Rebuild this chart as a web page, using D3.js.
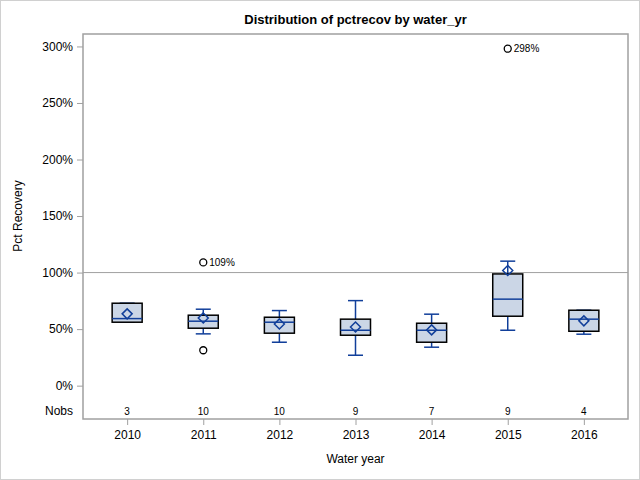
<html>
  <head>
    <meta charset="utf-8" />
    <script src="https://d3js.org/d3.v7.min.js"></script>
  </head>
  <style>
    body { margin: 0; }
    svg { font-family: "Liberation Sans", Arial, sans-serif; }
  </style>
  <body>
    <svg width="640" height="480"></svg>
    <script>
      // values (fractions, 1 = 100%)
      var years = ["2010", "2011", "2012", "2013", "2014", "2015", "2016"];
      var nobs = [3, 10, 10, 9, 7, 9, 4];
      var whiskerLow = [0.561, 0.458, 0.384, 0.269, 0.340, 0.490, 0.455];
      var q1 = [0.561, 0.508, 0.464, 0.446, 0.384, 0.614, 0.481];
      var median = [0.593, 0.570, 0.561, 0.490, 0.490, 0.765, 0.588];
      var q3 = [0.729, 0.623, 0.605, 0.588, 0.552, 0.988, 0.667];
      var whiskerHigh = [0.729, 0.676, 0.664, 0.752, 0.632, 1.101, 0.667];
      var mean = [0.635, 0.599, 0.546, 0.519, 0.493, 1.018, 0.573];
      var outlierYear = ["2011", "2011", "2015"];
      var outlierValue = [1.09, 0.313, 2.98];
      var outlierLabel = ["109%", "", "298%"];
      var yTicks = [0, 0.5, 1, 1.5, 2, 2.5, 3];

      var svg = d3.select("svg");
      var plotLeft = 83, plotRight = 628, plotTop = 34, plotBottom = 419;
      var blue = "#113f9a";

      // outer border
      svg.append("rect")
        .attr("x", 0.5).attr("y", 0.5).attr("width", 639).attr("height", 479)
        .style("fill", "white").style("stroke", "#d0d0d0");

      var x = d3.scalePoint().domain(years).range([plotLeft, plotRight]).padding(0.58);
      var y = d3.scaleLinear().domain([-0.295, 3.11]).range([plotBottom, plotTop]);

      // reference line at 100%
      svg.append("line")
        .attr("x1", plotLeft).attr("x2", plotRight)
        .attr("y1", y(1)).attr("y2", y(1))
        .style("stroke", "#a0a0a0").style("stroke-width", 1);

      var boxes = years.map(function (yr, i) {
        return { year: yr, lo: whiskerLow[i], q1: q1[i], med: median[i], q3: q3[i], hi: whiskerHigh[i], mean: mean[i], n: nobs[i] };
      });

      var g = svg.selectAll("g.box").data(boxes).enter().append("g").attr("class", "box");
      var bw = 30, cw = 15;

      // whiskers
      g.append("line")
        .attr("x1", function (d) { return x(d.year); }).attr("x2", function (d) { return x(d.year); })
        .attr("y1", function (d) { return y(d.hi); }).attr("y2", function (d) { return y(d.q3); })
        .style("stroke", blue).style("stroke-width", 1.5);
      g.append("line")
        .attr("x1", function (d) { return x(d.year); }).attr("x2", function (d) { return x(d.year); })
        .attr("y1", function (d) { return y(d.q1); }).attr("y2", function (d) { return y(d.lo); })
        .style("stroke", blue).style("stroke-width", 1.5);
      ["hi", "lo"].forEach(function (k) {
        g.append("line")
          .attr("x1", function (d) { return x(d.year) - cw / 2; }).attr("x2", function (d) { return x(d.year) + cw / 2; })
          .attr("y1", function (d) { return y(d[k]); }).attr("y2", function (d) { return y(d[k]); })
          .style("stroke", blue).style("stroke-width", 1.5);
      });

      // boxes
      g.append("rect")
        .attr("x", function (d) { return x(d.year) - bw / 2; })
        .attr("y", function (d) { return y(d.q3); })
        .attr("width", bw)
        .attr("height", function (d) { return y(d.q1) - y(d.q3); })
        .style("fill", "#cbd6e6").style("stroke", "black").style("stroke-width", 1.5);

      // median
      g.append("line")
        .attr("x1", function (d) { return x(d.year) - bw / 2; }).attr("x2", function (d) { return x(d.year) + bw / 2; })
        .attr("y1", function (d) { return y(d.med); }).attr("y2", function (d) { return y(d.med); })
        .style("stroke", blue).style("stroke-width", 1.5);

      // mean diamond
      g.append("path")
        .attr("d", function (d) {
          var cx = x(d.year), cy = y(d.mean), r = 5;
          return "M" + cx + "," + (cy - r) + "L" + (cx + r) + "," + cy + "L" + cx + "," + (cy + r) + "L" + (cx - r) + "," + cy + "Z";
        })
        .style("fill", "none").style("stroke", blue).style("stroke-width", 1.5);

      // nobs
      g.append("text")
        .attr("x", function (d) { return x(d.year); })
        .attr("y", plotBottom - 4)
        .attr("text-anchor", "middle")
        .style("font-size", "10px")
        .text(function (d) { return d.n; });

      // outliers
      outlierYear.forEach(function (yr, i) {
        svg.append("circle")
          .attr("cx", x(yr)).attr("cy", y(outlierValue[i])).attr("r", 3.5)
          .style("fill", "none").style("stroke", "black").style("stroke-width", 1.3);
        if (outlierLabel[i]) {
          svg.append("text")
            .attr("x", x(yr) + 6).attr("y", y(outlierValue[i]) + 3.5)
            .style("font-size", "10px")
            .text(outlierLabel[i]);
        }
      });

      // frame
      svg.append("rect")
        .attr("x", plotLeft).attr("y", plotTop).attr("width", plotRight - plotLeft).attr("height", plotBottom - plotTop)
        .style("fill", "none").style("stroke", "#a0a0a0").style("stroke-width", 1.5);

      // y axis
      var yAxis = d3.axisLeft(y).tickValues(yTicks).tickSize(6).tickPadding(4)
        .tickFormat(function (d) { return Math.round(d * 100) + "%"; });
      var ya = svg.append("g").attr("transform", "translate(" + plotLeft + ",0)").call(yAxis);
      ya.select(".domain").remove();
      ya.selectAll("line").style("stroke", "#a0a0a0");
      ya.selectAll("text").style("font-size", "12px").style("font-family", "Liberation Sans, Arial, sans-serif").style("fill", "black");

      svg.append("text")
        .attr("x", plotLeft - 10).attr("y", plotBottom - 4)
        .attr("text-anchor", "end")
        .style("font-size", "12px")
        .text("Nobs");

      // x axis
      var xAxis = d3.axisBottom(x).tickSize(6).tickPadding(5);
      var xa = svg.append("g").attr("transform", "translate(0," + plotBottom + ")").call(xAxis);
      xa.select(".domain").remove();
      xa.selectAll("line").style("stroke", "#a0a0a0");
      xa.selectAll("text").style("font-size", "12px").style("font-family", "Liberation Sans, Arial, sans-serif").style("fill", "black");

      // titles
      svg.append("text")
        .attr("x", (plotLeft + plotRight) / 2).attr("y", 24)
        .attr("text-anchor", "middle")
        .style("font-size", "13px").style("font-weight", "bold")
        .text("Distribution of pctrecov by water_yr");

      svg.append("text")
        .attr("x", (plotLeft + plotRight) / 2).attr("y", 463)
        .attr("text-anchor", "middle")
        .style("font-size", "12px")
        .text("Water year");

      svg.append("text")
        .attr("transform", "translate(22,216) rotate(-90)")
        .attr("text-anchor", "middle")
        .style("font-size", "12px")
        .text("Pct Recovery");
    </script>
  </body>
</html>
